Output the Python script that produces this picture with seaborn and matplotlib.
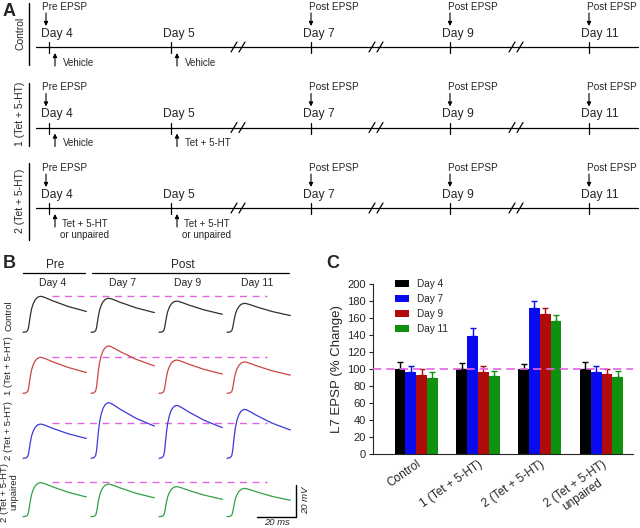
import numpy as np
import pandas as pd
import seaborn as sns
import matplotlib.pyplot as plt

sns.set_style('ticks')
plt.rcParams['font.family'] = ['Liberation Sans', 'DejaVu Sans']

# ---- data ----
groups = ['Control', '1 (Tet + 5-HT)', '2 (Tet + 5-HT)', '2 (Tet + 5-HT)\nunpaired']
days = ['Day 4', 'Day 7', 'Day 9', 'Day 11']
day4_vals = [100, 100, 100, 100]
day7_vals = [97, 139, 172, 97]
day9_vals = [93, 97, 165, 94]
day11_vals = [90, 92, 157, 91]
day4_err = [8, 7, 6, 8]
day7_err = [7, 9, 8, 6]
day9_err = [7, 6, 7, 6]
day11_err = [7, 6, 6, 7]

# EPSP peak amplitudes (mV) per row, columns = Day 4, 7, 9, 11
amp_control = [22.5, 21.3, 19.5, 18.1]
amp_tet1 = [22.5, 29.6, 20.8, 19.6]
amp_tet2 = [21.4, 34.8, 33.1, 30.6]
amp_unpaired = [21.3, 20.4, 18.8, 17.7]

# normalised EPSP waveform
trace_t = [0, 1.5, 2.4, 2.9, 3.3, 3.8, 4.4, 5.2, 6.2, 7.4, 8.8, 10, 12, 15, 19, 23, 27, 31, 32.5]
trace_v = [0, 0.01, 0.05, 0.15, 0.3, 0.48, 0.65, 0.79, 0.9, 0.97, 1.0, 0.99, 0.95,
           0.88, 0.8, 0.72, 0.66, 0.6, 0.58]

timeline_days = ['Day 4', 'Day 5', 'Day 7', 'Day 9', 'Day 11']
row_names = ['Control', '1 (Tet + 5-HT)', '2 (Tet + 5-HT)']
treat_day4 = ['Vehicle', 'Vehicle', 'Tet + 5-HT\nor unpaired']
treat_day5 = ['Vehicle', 'Tet + 5-HT', 'Tet + 5-HT\nor unpaired']

bar_colors = ['#000000', '#0a0aee', '#b00c0c', '#0e920e']
trace_colors = ['#303030', '#cc4444', '#3a3ad8', '#34a044']
pink = '#e464e4'

W, H = 640, 528
fig = plt.figure(figsize=(6.4, 5.28), dpi=100)

# ---- overlay for panel A and text of panel B (pixel coordinates) ----
ov = fig.add_axes([0, 0, 1, 1])
ov.set_xlim(0, W)
ov.set_ylim(H, 0)
ov.axis('off')

def arrow(x, y0, y1):
    ov.annotate('', xy=(x, y1), xytext=(x, y0),
                arrowprops=dict(arrowstyle='-|>', lw=0.8, color='k',
                                mutation_scale=6, shrinkA=0, shrinkB=0))

ov.text(3, 11, 'A', fontsize=13, fontweight='bold', va='center')
day_x = [49, 171, 311, 450, 589]
break_x = [240, 378, 518]
row_span = [(3, 65), (83, 146), (163, 240)]
for r in range(3):
    yt = 47 + 80.5 * r
    ov.plot([29, 29], row_span[r], color='k', lw=1)
    ov.text(20, (row_span[r][0] + row_span[r][1]) / 2 - 1, row_names[r], rotation=90,
            fontsize=7.5, ha='center', va='center')
    ov.plot([36, 638], [yt, yt], color='k', lw=0.9)
    for i, dx in enumerate(day_x):
        ov.plot([dx, dx], [yt - 5, yt + 6], color='k', lw=0.9)
        ov.text(dx - 8, yt - 13, timeline_days[i], fontsize=8.7, va='center')
        if i == 0:
            ov.text(dx - 7, yt - 40, 'Pre EPSP', fontsize=7.2, va='center')
            arrow(dx - 3, yt - 34, yt - 21)
        elif i >= 2:
            ov.text(dx - 2, yt - 40, 'Post EPSP', fontsize=7.2, va='center')
            arrow(dx, yt - 34, yt - 21)
    for bx in break_x:
        ov.plot([bx - 9, bx - 3], [yt + 5, yt - 5], color='k', lw=0.9)
        ov.plot([bx - 1, bx + 5], [yt + 5, yt - 5], color='k', lw=0.9)
    for dx, lab in zip(day_x[:2], [treat_day4[r], treat_day5[r]]):
        arrow(dx + 6, yt + 19, yt + 6)
        if '\n' in lab:
            ov.text(dx + 36, yt + 11, lab, fontsize=7, ha='center', va='top',
                    multialignment='center', linespacing=1.15)
        else:
            ov.text(dx + 14, yt + 16, lab, fontsize=7, va='center')

# panel B headers
ov.text(3, 263, 'B', fontsize=13, fontweight='bold', va='center')
ov.text(55, 265, 'Pre', fontsize=8.5, ha='center', va='center')
ov.text(183, 265, 'Post', fontsize=8.5, ha='center', va='center')
ov.plot([23, 85], [273, 273], color='k', lw=0.9)
ov.plot([92, 289], [273, 273], color='k', lw=0.9)
for cx, lab in zip([53, 123, 188, 257], days):
    ov.text(cx, 283, lab, fontsize=7.5, ha='center', va='center')
b_rows = ['Control', '1 (Tet + 5-HT)', '2 (Tet + 5-HT)', '2 (Tet + 5-HT)\nunpaired']
for cy, lab in zip([316, 366, 430, 492], b_rows):
    ov.text(9, cy, lab, rotation=90, fontsize=6.8, ha='center', va='center',
            multialignment='center', linespacing=1.0)
ov.text(333, 264, 'C', fontsize=13, fontweight='bold', va='center', ha='center')

# ---- panel B: traces ----
col_x = [23, 91, 159, 227]
row_base = [332.3, 393.3, 458.3, 516.7]
px_ms, px_mv = 1.95, 1.6
amps = [amp_control, amp_tet1, amp_tet2, amp_unpaired]
t = np.array(trace_t)
v = np.array(trace_v)
for r in range(4):
    for c in range(4):
        a = fig.add_axes([col_x[c] / W, (H - row_base[r]) / H, 34 * px_ms / W, 38 * px_mv / H])
        a.set_xlim(0, 34)
        a.set_ylim(0, 38)
        a.axis('off')
        sns.lineplot(x=t, y=v * amps[r][c], color=trace_colors[r], lw=0.9, ax=a)
        for ln in a.lines:
            ln.set_clip_on(False)
        if c == 0:
            a.hlines(amps[r][0] + 0.5, 15, 125, colors=pink, linestyles=(0, (5, 4)),
                     lw=1, clip_on=False)
        if r == 3 and c == 3:
            a.plot([15.4, 35.4], [0, 0], color='k', lw=1, clip_on=False)
            a.plot([35.4, 35.4], [0, 20], color='k', lw=1, clip_on=False)
            a.text(25.4, -3.6, '20 ms', fontsize=6.8, style='italic', ha='center', va='center')
            a.text(40.2, 10, '20 mV', fontsize=6.8, style='italic', rotation=90,
                   ha='center', va='center')

# ---- panel C: bar chart ----
vals = [day4_vals, day7_vals, day9_vals, day11_vals]
errs = [day4_err, day7_err, day9_err, day11_err]
df = pd.DataFrame({
    'group': groups * 4,
    'day': [d for d in days for _ in groups],
    'value': day4_vals + day7_vals + day9_vals + day11_vals,
})

axc = fig.add_axes([373 / W, (H - 454) / H, 260 / W, 170 / H])
sns.barplot(data=df, x='group', y='value', hue='day', order=groups, hue_order=days,
            palette=bar_colors, errorbar=None, width=0.7, saturation=1, linewidth=0,
            ax=axc)
bar_sets = list(axc.containers)
for i, cont in enumerate(bar_sets):
    xs = [b.get_x() + b.get_width() / 2 for b in cont]
    axc.errorbar(xs, vals[i], yerr=[[0] * 4, errs[i]], fmt='none', ecolor=bar_colors[i],
                 elinewidth=1, capsize=2.5, capthick=1, zorder=1)
axc.axhline(100, color=pink, ls=(0, (5, 3)), lw=1.2, zorder=5)

axc.set_xlim(-0.70, 3.51)
axc.set_ylim(0, 200)
axc.set_yticks(range(0, 201, 20))
axc.tick_params(axis='y', labelsize=8, length=3, width=0.8, pad=2)
axc.tick_params(axis='x', length=0, labelsize=8.5, pad=3)
axc.set_xticks(range(4))
axc.set_xticklabels(groups, rotation=35, ha='right', rotation_mode='anchor')
for lab in axc.get_xticklabels():
    lab.set_multialignment('center')
axc.set_xlabel('')
axc.set_ylabel('L7 EPSP (% Change)', fontsize=9.5, labelpad=3)
sns.despine(ax=axc)
for sp in ['left', 'bottom']:
    axc.spines[sp].set_linewidth(0.8)

h, l = axc.get_legend_handles_labels()
axc.legend(h, l, loc='upper left', bbox_to_anchor=(0.083, 1.03), frameon=False,
           fontsize=7.2, handlelength=1.4, handleheight=0.6, labelspacing=0.5,
           handletextpad=0.8, borderaxespad=0, borderpad=0)

fig.savefig('out.png', dpi=100)
